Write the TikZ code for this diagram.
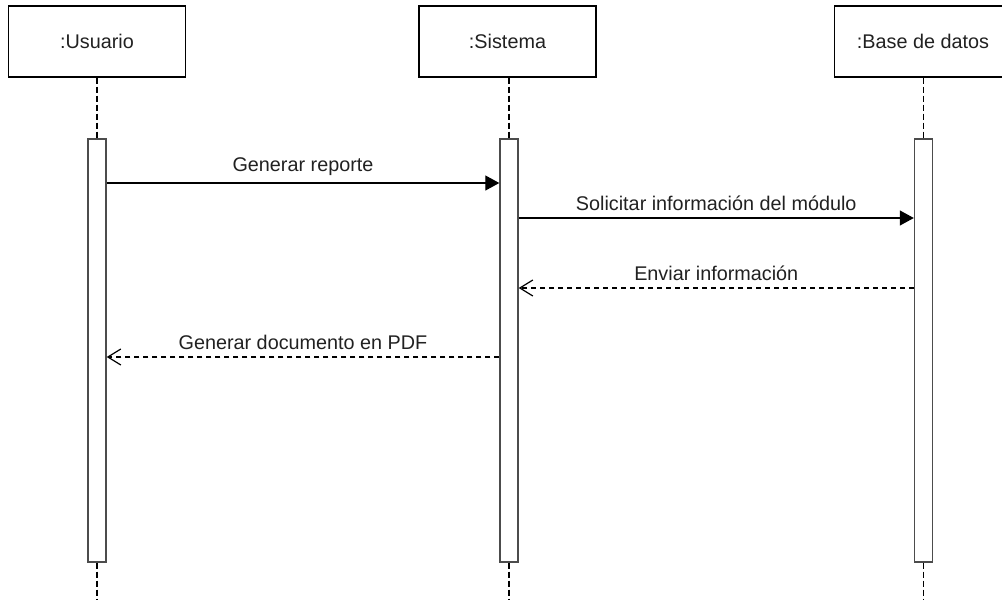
\documentclass[tikz,border=0pt]{standalone}
\usepackage{fontspec}
\setmainfont{Liberation Sans}
\usetikzlibrary{shapes,arrows.meta,fit,positioning}
\definecolor{actgray}{rgb}{.3,.3,.3}
\definecolor{txtgray}{rgb}{.13,.13,.13}

\begin{document}
\begin{tikzpicture}[x=1pt,y=-1pt,% coordinates are image pixels, y downwards
			every node/.style={
				align=center,
				inner sep=0pt,
				text=txtgray,
				font=\fontsize{19.8}{23}\selectfont	% same size for all texts
			},
			obj/.style={rectangle,draw=black,line width=1.3pt,minimum width=177pt,minimum height=71pt},
			act/.style={rectangle,draw=actgray,line width=1.4pt,fill=white,minimum width=18pt,minimum height=423pt},
			life/.style={draw=black,line width=1.5pt,dash pattern=on 6pt off 3pt},
			call/.style={draw,line width=1.2pt,-{Triangle[length=14pt,width=15pt]}},
			reply/.style={draw,line width=1.2pt,dash pattern=on 5pt off 4pt,-{Straight Barb[length=13pt,width=16pt]}}
		]
		\clip (0,0) rectangle (1002,600);
		% objects
		\node[obj](U) at (97,41.5){:Usuario};
		\node[obj](S) at (507.5,41.5){:Sistema};
		\node[obj](B) at (923,41.5){:Base de datos};
		% activations
		\node[act](aU) at (97,350.5){};
		\node[act](aS) at (509,350.5){};
		\node[act](aB) at (923.5,350.5){};
		\coordinate (eU) at (97,600);
		\coordinate (eS) at (509,600);
		\coordinate (eB) at (923.5,600);
		% lifelines
		\path[life] (U) edge (aU) (aU) edge (eU)
			(S.south -| aS) edge (aS) (aS) edge (eS)
			(B.south -| aB) edge (aB) (aB) edge (eB);
		% messages
		\path
		(aU.east |- 0,183) edge [call] node [above=7pt] {Generar reporte} (aS.west |- 0,183)
		(aS.east |- 0,218) edge [call] node [above=7pt] {Solicitar información del módulo} (aB.west |- 0,218)
		(aB.west |- 0,288) edge [reply] node [above=7pt] {Enviar información} (aS.east |- 0,288)
		(aS.west |- 0,357) edge [reply] node [above=7pt] {Generar documento en PDF} (aU.east |- 0,357)
		;
	\end{tikzpicture}
\end{document}
